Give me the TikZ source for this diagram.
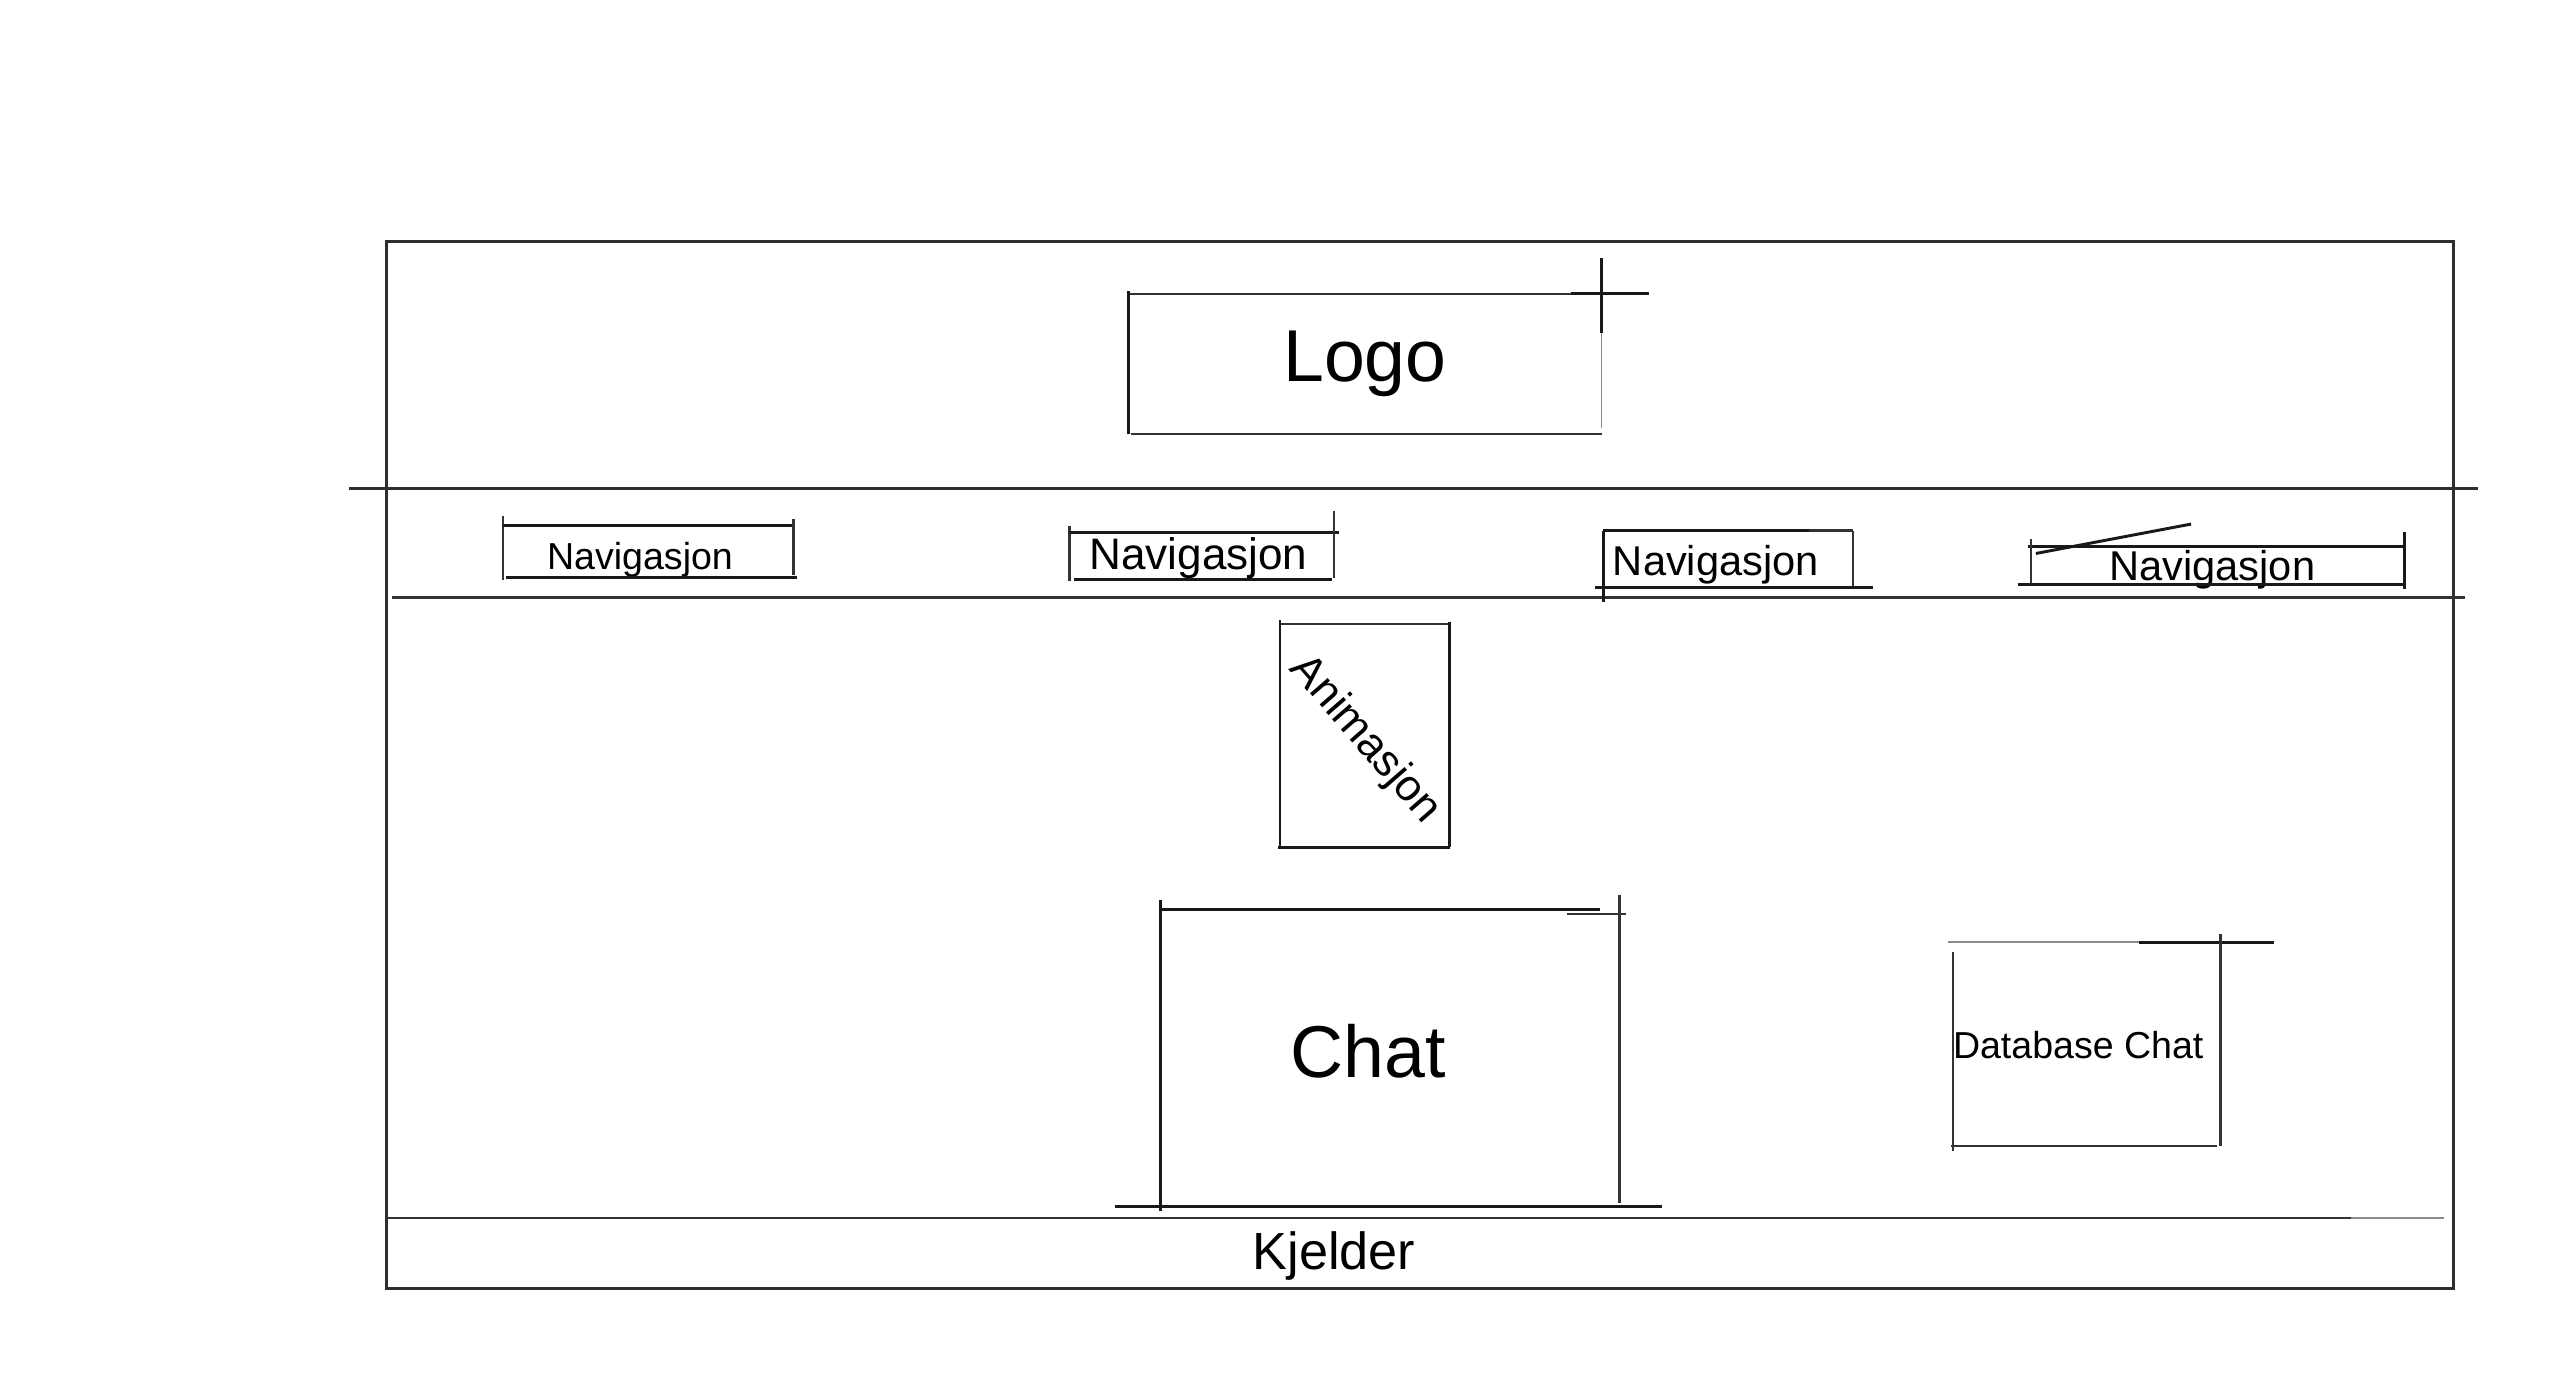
\documentclass[tikz,border=0pt]{standalone}
\usepackage{fontspec}
\setmainfont{Liberation Sans}
\tikzset{
  frame/.style={line width=1.9pt, draw=black!82},
  sk/.style={line width=1.8pt, draw=black!90},
  skl/.style={line width=1.4pt, draw=black!80},
  skf/.style={line width=0.9pt, draw=black!45},
  big/.style={inner sep=0pt, font=\fontsize{45}{52}\selectfont},
  mid/.style={inner sep=0pt, font=\fontsize{25.5}{30}\selectfont},
  small/.style={inner sep=0pt, font=\fontsize{23}{28}\selectfont},
}
\begin{document}
\begin{tikzpicture}[x=1pt,y=-1pt]
\useasboundingbox (0,0) rectangle (1568,845.25);
% outer frame
\draw[frame] (237,148) rectangle (1503,789);
% header lines
\draw[frame] (214,299) -- (1518,299);
\draw[skl] (240,366) -- (1510,366);
% footer line
\draw[skl] (237,746) -- (1440,746);
\draw[skf] (1440,746) -- (1497,746);

% Logo box
\node[big] (logo) at (836,223) {Logo};
\draw[skl] (691,180) -- (962,180);
\draw[sk] (962,180) -- (1010,180);
\draw[sk] (691,178) -- (691,266);
\draw[skl] (693,266) -- (981,266);
\draw[sk] (981,158) -- (981,204);
\draw[skf] (981,204) -- (981,262);

% Navigation 1
\node[small] (nav1) at (392,343) {Navigasjon};
\draw[skl] (308,316) -- (308,355);
\draw[sk] (308,322) -- (486,322);
\draw[skl] (486,318) -- (486,352);
\draw[sk] (310,354) -- (488,354);

% Navigation 2
\node[inner sep=0pt, font=\fontsize{27}{32}\selectfont] (nav2) at (734,342) {Navigasjon};
\draw[skl] (655,322) -- (655,356);
\draw[sk] (655,326) -- (820,326);
\draw[skl] (817,313) -- (817,354);
\draw[sk] (658,355) -- (816,355);

% Navigation 3
\node[mid] (nav3) at (1051,346) {Navigasjon};
\draw[sk] (982,325) -- (1108,325);
\draw[skl] (1108,325) -- (1135,325);
\draw[sk] (982,325) -- (982,369);
\draw[skl] (1135,325) -- (1135,360);
\draw[sk] (977,360) -- (1147,360);

% Navigation 4
\node[mid] (nav4) at (1355,349) {Navigasjon};
\draw[sk] (1242,335) -- (1473,335);
\draw[skl] (1244,330) -- (1244,358);
\draw[sk] (1473,326) -- (1473,361);
\draw[sk] (1236,358) -- (1473,358);
\draw[sk] (1247,339) -- (1342,321);

% Animation box
\node[inner sep=0pt, font=\fontsize{27}{32}\selectfont, rotate=-49] (anim) at (836,453) {Animasjon};
\draw[skl] (784,382) -- (888,382);
\draw[sk] (784,380) -- (784,520);
\draw[sk] (888,381) -- (888,519);
\draw[sk] (783,519) -- (888,519);

% Chat box
\node[big] (chat) at (838,644) {Chat};
\draw[sk] (711,557) -- (980,557);
\draw[skl] (960,560) -- (996,560);
\draw[sk] (711,551) -- (711,742);
\draw[skl] (992,548) -- (992,737);
\draw[sk] (683,739) -- (1018,739);

% Database chat box
\node[small, anchor=west] (db) at (1196,640) {Database Chat};
\draw[skf] (1193,577) -- (1310,577);
\draw[sk] (1310,577) -- (1393,577);
\draw[skl] (1196,583) -- (1196,705);
\draw[skl] (1360,572) -- (1360,702);
\draw[skl] (1195,702) -- (1358,702);

% footer label
\node[inner sep=0pt, font=\fontsize{32}{38}\selectfont] (foot) at (817,769) {Kjelder};
\end{tikzpicture}
\end{document}
